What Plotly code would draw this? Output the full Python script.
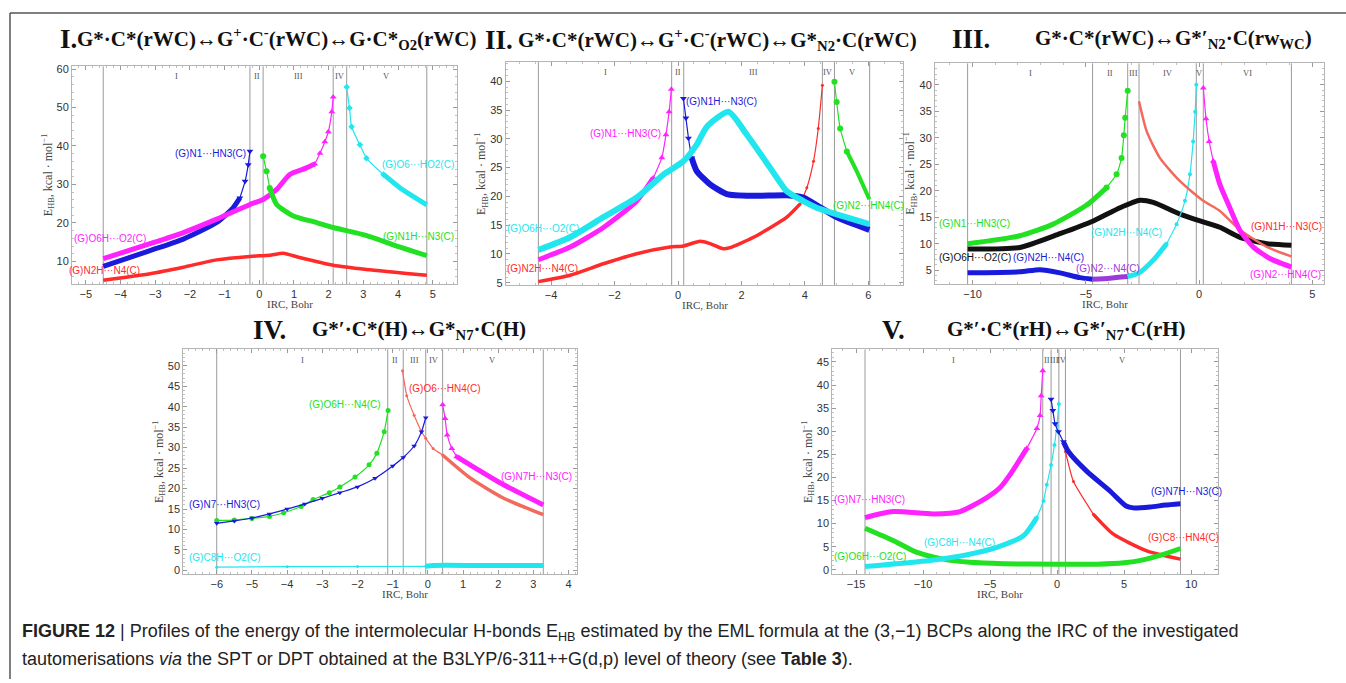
import plotly.graph_objects as go

W, H = 1346, 683

# ======================= DATA =======================
# ---- Panel I ----
p1_bounds = [-4.5, -0.27, 0.11, 2.13, 2.52, 4.83]
p1_regions = ["I", "II", "III", "IV", "V"]
p1_blue_x = [-4.5, -3.15, -2.19, -1.23, -0.75, -0.56, -0.41, -0.32, -0.27]
p1_blue_y = [8.7, 12.8, 15.8, 20.1, 24.0, 26.5, 30.8, 35.1, 38.6]
p1_mag_x = [-4.5, -3.15, -2.19, -1.23, -0.27, 0.11, 0.5, 0.88, 1.36, 1.6, 1.75, 1.89, 1.99, 2.09, 2.13]
p1_mag_y = [10.7, 14.6, 17.5, 21.0, 24.8, 26.1, 28.7, 32.6, 34.3, 35.3, 38.1, 41.1, 43.7, 48.9, 52.7]
p1_green_x = [0.11, 0.21, 0.3, 0.5, 0.98, 1.65, 2.13, 3.1, 4.06, 4.83]
p1_green_y = [37.3, 33.4, 29.1, 24.8, 21.8, 20.1, 18.8, 16.7, 13.7, 11.5]
p1_red_x = [-4.5, -3.15, -2.19, -1.23, -0.27, 0.3, 0.69, 1.16, 2.13, 3.09, 4.83]
p1_red_y = [5.1, 6.8, 8.5, 10.4, 11.3, 11.6, 12.1, 11.0, 9.0, 7.9, 6.4]
p1_cyan_x = [2.52, 2.6, 2.66, 2.9, 3.09, 3.58, 4.06, 4.83]
p1_cyan_y = [55.3, 49.9, 45.0, 40.3, 36.8, 32.6, 29.1, 24.7]
p1_labels = ["(G)N1···HN3(C)", "(G)O6H···O2(C)", "(G)N2H···N4(C)", "(G)O6···HO2(C)", "(G)N1H···N3(C)"]
p1_label_x = [-1.42, -4.31, -4.46, 4.58, 4.6]
p1_label_y = [38.05, 15.9, 7.7, 35.3, 16.4]

# ---- Panel II ----
p2_bounds = [-4.4, -0.2, 0.18, 4.55, 4.93, 6.04]
p2_regions = ["I", "II", "III", "IV", "V"]
p2_mag_x = [-4.4, -3.4, -2.35, -1.3, -0.78, -0.51, -0.38, -0.28, -0.21]
p2_mag_y = [9.0, 11.2, 14.6, 19.2, 23.2, 26.7, 30.7, 34.7, 38.6]
p2_blue_x = [0.17, 0.25, 0.33, 0.43, 0.59, 1.01, 1.54, 2.38, 3.43, 3.95, 4.48, 5.0, 5.53, 6.03]
p2_blue_y = [37.0, 33.6, 30.1, 26.7, 24.4, 22.1, 20.4, 20.1, 20.2, 19.8, 18.1, 16.4, 15.2, 14.2]
p2_cyan_x = [-4.4, -3.4, -2.35, -1.3, -0.46, 0.17, 0.59, 0.91, 1.59, 2.17, 2.9, 3.43, 3.95, 4.48, 5.0, 6.03]
p2_cyan_y = [10.7, 12.9, 16.4, 19.8, 23.8, 26.1, 29.0, 32.1, 34.7, 30.7, 25.0, 20.9, 19.2, 17.8, 16.9, 15.2]
p2_red_x = [-4.4, -3.4, -2.35, -1.3, -0.25, 0.17, 0.7, 1.01, 1.43, 1.64, 2.38, 3.43, 3.85, 4.06, 4.27, 4.42, 4.55]
p2_red_y = [5.2, 6.3, 8.3, 10.05, 11.2, 11.4, 12.2, 11.8, 10.9, 11.1, 12.9, 16.4, 18.7, 21.5, 26.1, 31.8, 39.3]
p2_green_x = [4.93, 5.0, 5.11, 5.32, 5.63, 6.03]
p2_green_y = [39.9, 36.4, 31.8, 27.8, 24.4, 19.5]
p2_labels = ["(G)N1···HN3(C)", "(G)N1H···N3(C)", "(G)O6H···O2(C)", "(G)N2H···N4(C)", "(G)N2···HN4(C)"]
p2_label_x = [-1.64, 1.38, -4.25, -4.28, 6.0]
p2_label_y = [30.9, 36.4, 14.4, 7.5, 18.5]

# ---- Panel III ----
p3_bounds = [-10.22, -4.7, -3.15, -2.65, -0.12, 0.19, 4.08]
p3_regions = ["I", "II", "III", "IV", "V", "VI"]
p3_green_x = [-10.22, -7.91, -6.44, -4.96, -4.08, -3.64, -3.42, -3.32, -3.26, -3.15]
p3_green_y = [10.0, 11.5, 13.7, 17.3, 20.6, 23.1, 26.2, 30.5, 33.8, 38.9]
p3_black_x = [-10.22, -7.91, -6.14, -4.67, -3.49, -2.61, -2.02, -0.84, 0.04, 0.92, 1.81, 2.99, 4.08]
p3_black_y = [9.0, 9.3, 11.9, 14.3, 16.8, 18.2, 17.8, 15.6, 14.3, 13.1, 11.2, 10.0, 9.7]
p3_blue_x = [-10.22, -7.91, -7.03, -6.14, -5.26, -4.7]
p3_blue_y = [4.5, 4.7, 5.1, 4.5, 3.6, 3.3]
p3_purple_x = [-4.7, -3.94, -3.15]
p3_purple_y = [3.3, 3.5, 3.8]
p3_cyan_x = [-3.15, -2.65, -2.02, -1.43, -0.99, -0.62, -0.4, -0.26, -0.17, -0.12]
p3_cyan_y = [3.8, 4.5, 6.9, 10.0, 13.7, 18.1, 23.1, 29.3, 34.9, 40.0]
p3_red_x = [-2.65, -2.31, -1.73, -0.84, 0.19, 0.92, 1.81, 2.99, 4.08]
p3_red_y = [36.9, 31.2, 26.2, 21.8, 18.1, 16.2, 12.6, 9.4, 7.6]
p3_mag_x = [0.19, 0.31, 0.45, 0.63, 0.92, 1.36, 1.81, 2.39, 3.13, 4.08]
p3_mag_y = [39.4, 33.6, 29.3, 25.6, 21.2, 16.8, 12.5, 9.4, 7.2, 5.6]
p3_labels = ["(G)N1···HN3(C)", "(G)O6H···O2(C)", "(G)N2H···N4(C)", "(G)N2H···N4(C)",
             "(G)N2···N4(C)", "(G)N1H···N3(C)", "(G)N2···HN4(C)"]
p3_label_x = [-9.9, -9.9, -6.63, -3.2, -4.04, 3.87, 3.84]
p3_label_y = [13.8, 7.4, 7.4, 12.1, 5.4, 13.3, 4.1]

# ---- Panel IV ----
p4_bounds = [-6.0, -1.14, -0.70, -0.06, 0.42, 3.28]
p4_regions = ["I", "II", "III", "IV", "V"]
p4_green_x = [-6.0, -5.5, -5.0, -4.5, -4.1, -3.6, -3.26, -2.8, -2.5, -2.07, -1.67, -1.45, -1.24, -1.13]
p4_green_y = [12.2, 12.3, 12.7, 13.2, 14.1, 15.6, 17.3, 19.0, 20.4, 22.8, 25.8, 28.6, 33.9, 39.1]
p4_blue_x = [-6.0, -5.5, -5.0, -4.5, -4.0, -3.5, -3.0, -2.5, -2.0, -1.5, -1.0, -0.7, -0.39, -0.18, -0.06]
p4_blue_y = [11.5, 12.1, 12.8, 13.8, 15.0, 16.2, 17.6, 19.0, 20.4, 22.5, 25.5, 27.6, 30.4, 33.9, 37.3]
p4_red_x = [-0.72, -0.6, -0.39, -0.18, -0.06, 0.15, 0.42, 1.2, 2.14, 3.28]
p4_red_y = [48.8, 42.7, 37.9, 33.9, 32.3, 29.8, 28.2, 22.6, 17.7, 13.6]
p4_mag_x = [0.42, 0.49, 0.55, 0.68, 0.82, 1.2, 2.14, 3.28]
p4_mag_y = [40.5, 37.1, 33.1, 29.8, 27.8, 25.8, 21.0, 16.0]
p4_cyan_x = [-6.0, -4.0, -2.0, -0.06, 0.15, 1.5, 3.28]
p4_cyan_y = [0.8, 0.9, 0.95, 1.0, 1.2, 1.2, 1.2]
p4_labels = ["(G)O6H···N4(C)", "(G)N7···HN3(C)", "(G)O6···HN4(C)", "(G)N7H···N3(C)", "(G)C8H···O2(C)"]
p4_label_x = [-2.36, -5.78, 0.49, 3.09, -5.76]
p4_label_y = [40.6, 16.1, 44.5, 23.0, 3.2]

# ---- Panel V ----
p5_bounds = [-14.33, -1.07, -0.45, 0.13, 0.62, 9.2]
p5_regions = ["I", "II", "III", "IV", "V"]
p5_mag_x = [-14.33, -12.24, -9.23, -7.24, -5.25, -4.25, -3.51, -2.26, -1.51, -1.27, -1.19, -1.07]
p5_mag_y = [11.3, 12.6, 12.1, 12.6, 15.6, 17.8, 20.6, 26.3, 30.6, 33.4, 37.7, 43.1]
p5_green_x = [-14.33, -12.2, -10.5, -8.5, -6.5, -4.0, 0.0, 3.0, 5.0, 6.5, 7.8, 9.2]
p5_green_y = [9.0, 6.3, 3.8, 2.3, 1.6, 1.3, 1.2, 1.2, 1.5, 2.2, 3.2, 4.6]
p5_cyan_x = [-14.33, -9.48, -6.99, -4.5, -2.51, -1.51, -1.02, -0.77, -0.45, -0.2, -0.02, 0.13]
p5_cyan_y = [0.7, 2.0, 3.1, 4.85, 7.35, 11.3, 14.9, 18.4, 22.7, 27.0, 31.3, 35.9]
p5_blue_x = [-0.45, -0.32, -0.15, 0.1, 0.47, 0.84, 2.22, 3.96, 5.15, 5.67, 6.94, 8.06, 9.2]
p5_blue_y = [36.9, 34.5, 31.6, 29.9, 27.7, 25.6, 21.3, 17.0, 13.8, 13.4, 13.6, 14.0, 14.3]
p5_red_x = [0.62, 1.22, 2.71, 4.2, 6.69, 9.2]
p5_red_y = [25.6, 19.1, 12.0, 7.7, 4.1, 2.3]
p5_labels = ["(G)N7···HN3(C)", "(G)O6H···O2(C)", "(G)C8H···N4(C)", "(G)N7H···N3(C)", "(G)C8···HN4(C)"]
p5_label_x = [-13.96, -13.96, -7.31, 9.63, 9.4]
p5_label_y = [15.2, 2.85, 5.8, 17.0, 7.0]

# ======================= STYLE / LAYOUT =======================
BLUE, MAG, GREEN, RED, CYAN = "#1a1adc", "#ff22ff", "#22e022", "#ff2a2a", "#22e6ee"
SALMON, BLACK, PURPLE = "#f26a5e", "#111111", "#9b3ad8"

# pixel boxes of the five frames: left, right, top, bottom
boxes = {
    1: (72, 457, 64, 284),
    2: (505.7, 903.3, 59.3, 285),
    3: (935, 1324, 61, 284),
    4: (183.3, 576.7, 350, 577),
    5: (832.3, 1218, 350, 577),
}
xranges = {1: [-5.4, 5.7], 2: [-5.43, 7.1], 3: [-11.66, 5.52], 4: [-6.95, 4.23], 5: [-16.77, 12.0]}
yranges = {1: [4.1, 60.7], 2: [4.6, 43.4], 3: [2.38, 44.05], 4: [-0.9, 54.0], 5: [-0.94, 47.72]}
xticks = {1: (1, 0.2), 2: (2, 0.5), 3: (5, 1), 4: (1, 0.2), 5: (5, 1)}
yticks = {1: (10, 2), 2: (5, 1), 3: (5, 1), 4: (5, 1), 5: (5, 1)}

fig = go.Figure()


def add_series(k, xs, ys, color, symbol, sparse="none", n=0, width=5, msize=6):
    xa = "x" if k == 1 else f"x{k}"
    ya = "y" if k == 1 else f"y{k}"
    L = len(xs)
    if sparse == "tail":
        dense = (xs[:L - n + 1], ys[:L - n + 1]); sp = (xs[L - n:], ys[L - n:])
    elif sparse == "head":
        sp = (xs[:n], ys[:n]); dense = (xs[n - 1:], ys[n - 1:])
    elif sparse == "all":
        sp = (xs, ys); dense = None
    else:
        sp = None; dense = (xs, ys)
    if dense is not None and len(dense[0]) > 1:
        fig.add_trace(go.Scatter(x=dense[0], y=dense[1], mode="lines", xaxis=xa, yaxis=ya,
                                 line=dict(color=color, width=width, shape="spline", smoothing=0.6),
                                 showlegend=False, hoverinfo="skip"))
    if sp is not None:
        fig.add_trace(go.Scatter(x=sp[0], y=sp[1], mode="lines+markers", xaxis=xa, yaxis=ya,
                                 line=dict(color=color, width=1.2, shape="spline", smoothing=0.5),
                                 marker=dict(color=color, symbol=symbol, size=msize),
                                 showlegend=False, hoverinfo="skip"))


# Panel I
add_series(1, p1_red_x, p1_red_y, RED, "circle", width=3.5)
add_series(1, p1_blue_x, p1_blue_y, BLUE, "triangle-down", "tail", 4)
add_series(1, p1_mag_x, p1_mag_y, MAG, "triangle-up", "tail", 6)
add_series(1, p1_green_x, p1_green_y, GREEN, "circle", "head", 3)
add_series(1, p1_cyan_x, p1_cyan_y, CYAN, "diamond", "head", 6, msize=5)
# Panel II
add_series(2, p2_red_x, p2_red_y, RED, "circle", "tail", 5, width=3.5, msize=3)
add_series(2, p2_mag_x, p2_mag_y, MAG, "triangle-up", "tail", 5)
add_series(2, p2_blue_x, p2_blue_y, BLUE, "triangle-down", "head", 4, width=6)
add_series(2, p2_cyan_x, p2_cyan_y, CYAN, "circle", width=6)
add_series(2, p2_green_x, p2_green_y, GREEN, "circle", "head", 4, width=4)
# Panel III
add_series(3, p3_blue_x, p3_blue_y, BLUE, "circle", width=5)
add_series(3, p3_purple_x, p3_purple_y, PURPLE, "circle", width=5)
add_series(3, p3_black_x, p3_black_y, BLACK, "circle", width=5)
add_series(3, p3_green_x, p3_green_y, GREEN, "circle", "tail", 6)
add_series(3, p3_cyan_x, p3_cyan_y, CYAN, "circle", "tail", 7, msize=4)
add_series(3, p3_red_x, p3_red_y, SALMON, "circle", width=2.5)
add_series(3, p3_mag_x, p3_mag_y, MAG, "triangle-up", "head", 4)
# Panel IV
add_series(4, p4_cyan_x, p4_cyan_y, CYAN, "circle", "head", 4, width=5, msize=3)
add_series(4, p4_red_x, p4_red_y, SALMON, "circle", "head", 7, width=3.5, msize=3)
add_series(4, p4_green_x, p4_green_y, GREEN, "circle", "all", msize=5)
add_series(4, p4_blue_x, p4_blue_y, BLUE, "triangle-down", "all", msize=5)
add_series(4, p4_mag_x, p4_mag_y, MAG, "triangle-up", "head", 5)
# Panel V
add_series(5, p5_red_x, p5_red_y, RED, "circle", "head", 3, width=3.5, msize=3)
add_series(5, p5_green_x, p5_green_y, GREEN, "circle", width=5)
add_series(5, p5_cyan_x, p5_cyan_y, CYAN, "circle", "tail", 7, msize=4)
add_series(5, p5_mag_x, p5_mag_y, MAG, "triangle-up", "tail", 5)
add_series(5, p5_blue_x, p5_blue_y, BLUE, "triangle-down", "head", 5)

panel_bounds = {1: p1_bounds, 2: p2_bounds, 3: p3_bounds, 4: p4_bounds, 5: p5_bounds}
panel_regions = {1: p1_regions, 2: p2_regions, 3: p3_regions, 4: p4_regions, 5: p5_regions}
panel_labels = {
    1: (p1_labels, p1_label_x, p1_label_y, [BLUE, MAG, RED, CYAN, GREEN]),
    2: (p2_labels, p2_label_x, p2_label_y, [MAG, BLUE, CYAN, RED, GREEN]),
    3: (p3_labels, p3_label_x, p3_label_y, [GREEN, BLACK, BLUE, CYAN, PURPLE, RED, MAG]),
    4: (p4_labels, p4_label_x, p4_label_y, [GREEN, BLUE, RED, MAG, CYAN]),
    5: (p5_labels, p5_label_x, p5_label_y, [MAG, GREEN, CYAN, BLUE, RED]),
}

shapes, annotations = [], []
layout_axes = {}
for k in range(1, 6):
    l, r, t, b = boxes[k]
    xname = "xaxis" if k == 1 else f"xaxis{k}"
    yname = "yaxis" if k == 1 else f"yaxis{k}"
    xa = "x" if k == 1 else f"x{k}"
    ya = "y" if k == 1 else f"y{k}"
    common = dict(showline=True, linecolor="#b5b5b5", linewidth=1, mirror="ticks", ticks="inside",
                  ticklen=4, tickcolor="#9a9a9a", showgrid=False, zeroline=False,
                  tickfont=dict(family="Liberation Sans", size=11, color="#333"))
    layout_axes[xname] = dict(domain=[l / W, r / W], range=xranges[k], anchor=ya, dtick=xticks[k][0],
                              tick0=0, minor=dict(dtick=xticks[k][1], ticks="inside", ticklen=2,
                                                  tickcolor="#c0c0c0"), **common)
    layout_axes[yname] = dict(domain=[1 - b / H, 1 - t / H], range=yranges[k], anchor=xa, dtick=yticks[k][0],
                              tick0=0, minor=dict(dtick=yticks[k][1], ticks="inside", ticklen=2,
                                                  tickcolor="#c0c0c0"), **common)
    bnds = panel_bounds[k]
    for bx in bnds:
        shapes.append(dict(type="line", xref=xa, yref=f"{ya} domain", x0=bx, x1=bx, y0=0, y1=1,
                           line=dict(color="#9a9a9a", width=1), layer="below"))
    for i, name in enumerate(panel_regions[k]):
        annotations.append(dict(xref=xa, yref=f"{ya} domain", x=(bnds[i] + bnds[i + 1]) / 2, y=0.955,
                                text=name, showarrow=False, yanchor="middle",
                                font=dict(family="Liberation Serif", size=8.5, color="#555")))
    texts, lx, ly, cols = panel_labels[k]
    for txt, x, y, c in zip(texts, lx, ly, cols):
        annotations.append(dict(xref=xa, yref=ya, x=x, y=y, text=txt, showarrow=False,
                                font=dict(family="Liberation Sans", size=10, color=c)))
    # axis titles
    annotations.append(dict(xref="paper", yref="paper", x=(l + r) / 2 / W, y=1 - (b + 20.5) / H,
                            text="IRC, Bohr", showarrow=False, yanchor="middle",
                            font=dict(family="Liberation Serif", size=11, color="#444")))
    annotations.append(dict(xref="paper", yref="paper", x=(l - 24) / W, y=1 - (t + b) / 2 / H,
                            text="E<sub>HB</sub>, kcal · mol<sup>−1</sup>", showarrow=False, textangle=-90,
                            xanchor="center", yanchor="middle",
                            font=dict(family="Liberation Serif", size=12, color="#444")))

# panel titles: (numeral, numeral x px, formula, formula x px, y px)
titles = [
    ("I.", 58, "G*·C*(rWC)↔G<sup>+</sup>·C<sup>-</sup>(rWC)↔G·C*<sub>O2</sub>(rWC)", 75, 36),
    ("II.", 483, "G*·C*(rWC)↔G<sup>+</sup>·C<sup>-</sup>(rWC)↔G*<sub>N2</sub>·C(rWC)", 516, 37),
    ("III.", 950, "G*·C*(rWC)↔G*′<sub>N2</sub>·C(rw<sub>WC</sub>)", 1033, 36),
    ("IV.", 251, "G*′·C*(H)↔G*<sub>N7</sub>·C(H)", 310, 330),
    ("V.", 880, "G*′·C*(rH)↔G*′<sub>N7</sub>·C(rH)", 945, 330),
]
for num, nx, form, fx, ty in titles:
    annotations.append(dict(xref="paper", yref="paper", x=nx / W, y=1 - ty / H, text=f"<b>{num}</b>",
                            showarrow=False, xanchor="left", yanchor="middle",
                            font=dict(family="Liberation Serif", size=27, color="#111")))
    annotations.append(dict(xref="paper", yref="paper", x=fx / W, y=1 - ty / H, text=f"<b>{form}</b>",
                            showarrow=False, xanchor="left", yanchor="middle",
                            font=dict(family="Liberation Serif", size=21, color="#111")))

# caption
cap1 = ("<b>FIGURE 12</b> | Profiles of the energy of the intermolecular H-bonds E<sub>HB</sub> estimated by "
        "the EML formula at the (3,−1) BCPs along the IRC of the investigated")
cap2 = ("tautomerisations <i>via</i> the SPT or DPT obtained at the B3LYP/6-311++G(d,p) level of theory "
        "(see <b>Table 3</b>).")
annotations.append(dict(xref="paper", yref="paper", x=20 / W, y=1 - 636 / H, text=cap1, showarrow=False,
                        xanchor="left", yanchor="middle", font=dict(family="Liberation Sans", size=18, color="#222")))
annotations.append(dict(xref="paper", yref="paper", x=20 / W, y=1 - 663 / H, text=cap2, showarrow=False,
                        xanchor="left", yanchor="middle", font=dict(family="Liberation Sans", size=18, color="#222")))

# outer border (top and left)
shapes.append(dict(type="line", xref="paper", yref="paper", x0=10 / W, x1=1.0, y0=1 - 10 / H, y1=1 - 10 / H,
                   line=dict(color="#555", width=1.5)))
shapes.append(dict(type="line", xref="paper", yref="paper", x0=10 / W, x1=10 / W, y0=0, y1=1 - 10 / H,
                   line=dict(color="#555", width=1.5)))

fig.update_layout(width=W, height=H, margin=dict(l=0, r=0, t=0, b=0), paper_bgcolor="white",
                  plot_bgcolor="white", showlegend=False, shapes=shapes, annotations=annotations,
                  **layout_axes)

fig.write_html("out.html")
